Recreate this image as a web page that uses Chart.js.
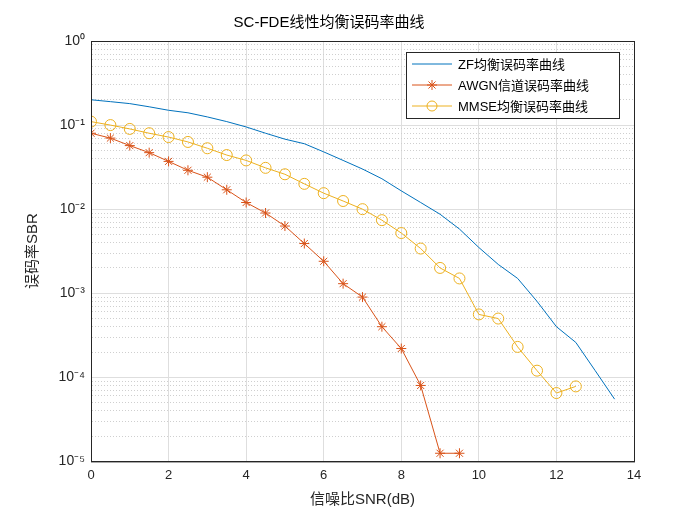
<!DOCTYPE html><html><head><meta charset="utf-8">
<script src="https://cdn.jsdelivr.net/npm/chart.js"></script>
<style>html,body{margin:0;background:#fff}#w{width:700px;height:525px}</style></head><body><div id="w"><canvas id="c"></canvas></div>
<script>
const snrZF=[0,0.5,1,1.5,2,2.5,3,3.5,4,4.5,5,5.5,6,6.5,7,7.5,8,8.5,9,9.5,10,10.5,11,11.5,12,12.5,13,13.5];
const berZF=[0.2,0.19,0.18,0.165,0.15,0.14,0.125,0.11,0.095,0.08,0.068,0.06,0.048,0.038,0.03,0.023,0.0165,0.012,0.0087,0.0058,0.0035,0.0022,0.0015,0.0008,0.0004,0.00026,0.00012,0.000055];
const snrAWGN=[0,0.5,1,1.5,2,2.5,3,3.5,4,4.5,5,5.5,6,6.5,7,7.5,8,8.5,9,9.5];
const berAWGN=[0.08,0.07,0.057,0.047,0.037,0.029,0.024,0.017,0.012,0.009,0.0063,0.0039,0.0024,0.0013,0.0009,0.0004,0.00022,0.00008,0.0000125,0.0000125];
const snrMMSE=[0,0.5,1,1.5,2,2.5,3,3.5,4,4.5,5,5.5,6,6.5,7,7.5,8,8.5,9,9.5,10,10.5,11,11.5,12,12.5];
const berMMSE=[0.11,0.1,0.09,0.08,0.072,0.063,0.053,0.044,0.038,0.031,0.026,0.02,0.0155,0.0125,0.01,0.0074,0.0052,0.0034,0.002,0.0015,0.00056,0.0005,0.00023,0.00012,0.000065,0.000078];
const xTicks=[0,2,4,6,8,10,12,14];
const yTickLabels={'1':'10⁰','0.1':'10⁻¹','0.01':'10⁻²','0.001':'10⁻³','0.0001':'10⁻⁴','0.00001':'10⁻⁵'};
const names=['ZF均衡误码率曲线','AWGN信道误码率曲线','MMSE均衡误码率曲线'];
const F='"Liberation Sans", Arial, "Noto Sans CJK SC", sans-serif';
const pts=(x,y)=>x.map((v,i)=>({x:v,y:y[i]}));
const decades=[1e-5,1e-4,1e-3,1e-2,1e-1,1];
const minors=[];for(let e=-5;e<0;e++)for(let m=2;m<=9;m++)minors.push(m*Math.pow(10,e));
const boxPlugin={id:'box',afterDraw(ch){const a=ch.chartArea,g=ch.ctx;g.save();g.strokeStyle='#262626';g.lineWidth=1;g.strokeRect(a.left+0.5,a.top+0.5,a.right-a.left,a.bottom-a.top);
const lx=406,ly=52,lw=213,lh=66;g.fillStyle='#fff';g.fillRect(lx,ly,lw,lh);g.strokeRect(lx+0.5,ly+0.5,lw,lh);
g.font='13px '+F;g.textBaseline='middle';
ch.data.datasets.forEach((d,i)=>{const y=ly+12+i*21;g.strokeStyle=d.borderColor;g.lineWidth=1;g.beginPath();g.moveTo(lx+6,y);g.lineTo(lx+46,y);g.stroke();
if(i===1){g.beginPath();for(let k=0;k<4;k++){const t=k*Math.PI/4;g.moveTo(lx+26-5*Math.cos(t),y-5*Math.sin(t));g.lineTo(lx+26+5*Math.cos(t),y+5*Math.sin(t));}g.stroke();}
if(i===2){g.beginPath();g.arc(lx+26,y,5,0,2*Math.PI);g.stroke();}
g.fillStyle='#000';g.fillText(names[i],lx+52,y+1);});
g.restore();}};
new Chart(document.getElementById('c'),{type:'line',
data:{datasets:[
{label:names[0],data:pts(snrZF,berZF),borderColor:'#0072BD',borderWidth:1,pointRadius:0,fill:false},
{label:names[1],data:pts(snrAWGN,berAWGN),borderColor:'#D95319',borderWidth:1,pointStyle:'star',pointRadius:5,pointBorderWidth:1,pointBorderColor:'#D95319',backgroundColor:'transparent'},
{label:names[2],data:pts(snrMMSE,berMMSE),borderColor:'#EDB120',borderWidth:1,pointStyle:'circle',pointRadius:5.5,pointBorderWidth:1,pointBorderColor:'#EDB120',pointBackgroundColor:'transparent',backgroundColor:'transparent'}]},
options:{responsive:true,maintainAspectRatio:false,animation:false,
layout:{padding:{left:24,right:66,top:10,bottom:12}},
plugins:{legend:{display:false},tooltip:{enabled:false},
title:{display:true,text:'SC-FDE线性均衡误码率曲线',color:'#000',font:{family:F,size:15,weight:'normal'},padding:{top:4,bottom:9}}},
scales:{
x:{type:'linear',min:0,max:14,afterBuildTicks:s=>{s.ticks=xTicks.map(v=>({value:v}))},
grid:{color:'#dedede',drawTicks:false},border:{color:'#262626'},
ticks:{color:'#262626',font:{family:F,size:13},padding:6},
title:{display:true,text:'信噪比SNR(dB)',color:'#262626',font:{family:F,size:15},padding:{top:2,bottom:4}}},
ym:{type:'logarithmic',position:'left',min:1e-5,max:1,afterBuildTicks:s=>{s.ticks=minors.map(v=>({value:v}))},
grid:{color:'#cfcfcf',drawTicks:false},border:{display:true,color:'rgba(0,0,0,0)',dash:[1,2]},ticks:{display:false},afterFit:s=>{s.width=0}},
y:{type:'logarithmic',min:1e-5,max:1,afterBuildTicks:s=>{s.ticks=decades.map(v=>({value:v}))},
grid:{color:'#dedede',drawTicks:false},border:{color:'#262626'},
ticks:{color:'#262626',font:{family:F,size:14},padding:6,callback:v=>yTickLabels[String(v)]||''},
title:{display:true,text:'误码率SBR',color:'#262626',font:{family:F,size:15},padding:{top:0,bottom:4}},
afterFit:s=>{s.width=67}}}},
plugins:[boxPlugin]});
</script></body></html>
